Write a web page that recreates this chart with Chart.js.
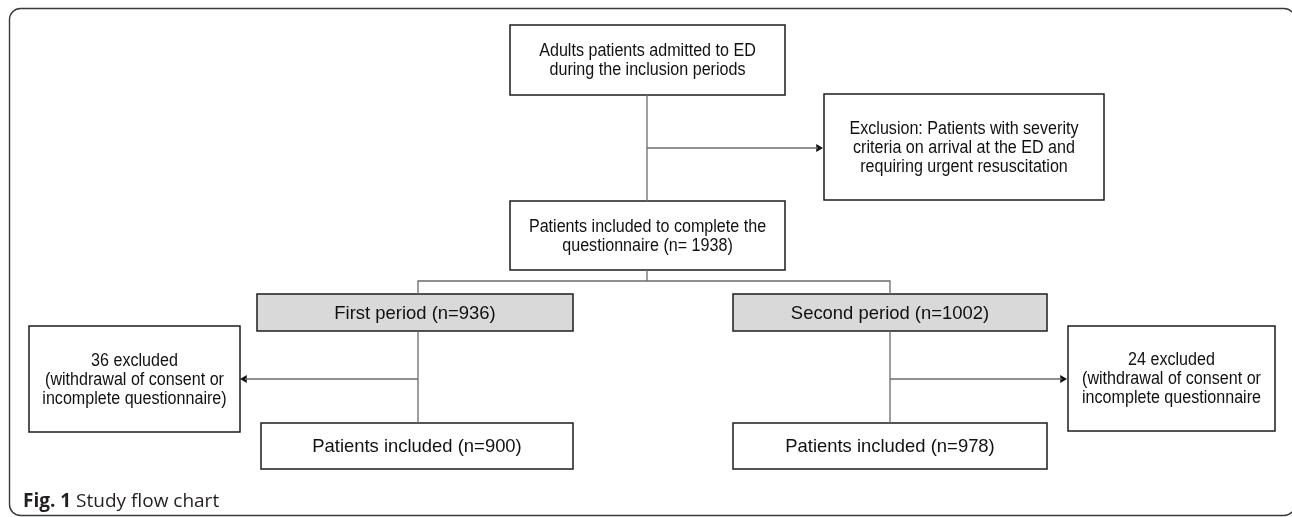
<!DOCTYPE html>
<html>
<head>
<meta charset="utf-8">
<script src="https://cdn.jsdelivr.net/npm/chart.js@4"></script>
<style>
  html, body { margin: 0; padding: 0; background: #fff; }
  #wrap { width: 1292px; height: 517px; position: relative; }
</style>
</head>
<body>
<div id="wrap"><canvas id="flow-chart"></canvas></div>
<script>
// box texts (one entry per box, one string per line)
const boxText = [
  ['Adults patients admitted to ED', 'during the inclusion periods'],
  ['Exclusion: Patients with severity', 'criteria on arrival at the ED and', 'requiring urgent resuscitation'],
  ['Patients included to complete the', 'questionnaire (n= 1938)'],
  ['First period (n=936)'],
  ['Second period (n=1002)'],
  ['36 excluded', '(withdrawal of consent or', 'incomplete questionnaire)'],
  ['24 excluded', '(withdrawal of consent or', 'incomplete questionnaire'],
  ['Patients included (n=900)'],
  ['Patients included (n=978)']
];
const boxShaded = [false, false, false, true, true, false, false, false, false];
const captionBold = 'Fig. 1';
const captionText = ' Study flow chart';

// layout of the boxes, in the chart's own units (x 0..1292, y 0..517 from top)
const boxX0 = [510, 824, 510, 257, 733, 29, 1068, 261, 733];
const boxX1 = [785, 1104, 785, 573, 1047, 240, 1275, 573, 1047];
const boxY0 = [25, 94, 201, 294, 294, 326, 326, 423, 423];
const boxY1 = [95, 200, 270, 331, 331, 432, 431, 469, 469];

// connector paths
const links = [
  [[647, 95], [647, 201]],
  [[647, 148], [818, 148]],
  [[647, 270], [647, 281]],
  [[418, 294], [418, 281], [890, 281], [890, 294]],
  [[418, 331], [418, 423]],
  [[418, 379], [245, 379]],
  [[890, 331], [890, 423]],
  [[890, 379], [1062, 379]]
];
// arrow heads: tip position and direction
const arrowX = [823, 240, 1067];
const arrowY = [148, 379, 379];
const arrowDir = [90, -90, 90];

const ARROW_R = 4.5;

const datasets = links.map(path => ({
  data: path.map(p => ({ x: p[0], y: p[1] })),
  showLine: true,
  borderColor: '#6b6b6b',
  borderWidth: 1.3,
  pointRadius: 0,
  fill: false
}));
datasets.push({
  data: arrowX.map((x, i) => ({ x: x - ARROW_R * Math.sin(arrowDir[i] * Math.PI / 180), y: arrowY[i] })),
  pointStyle: 'triangle',
  rotation: arrowDir,
  pointRadius: ARROW_R,
  backgroundColor: '#111',
  borderColor: '#111',
  borderWidth: 0,
  showLine: false
});

function drawLines(ctx, lines, cx, y0, lh, condense) {
  const start = y0 - (lines.length - 1) * lh / 2;
  lines.forEach((t, i) => {
    ctx.save();
    ctx.translate(cx, start + i * lh);
    ctx.scale(condense, 1);
    ctx.fillText(t, 0, 0);
    ctx.restore();
  });
}

const flowPlugin = {
  id: 'flow',
  beforeDraw(chart) {
    const ctx = chart.ctx;
    const xs = chart.scales.x, ys = chart.scales.y;
    ctx.save();
    ctx.fillStyle = '#fff';
    ctx.fillRect(0, 0, chart.width, chart.height);
    // outer frame, right side runs off the picture
    const l = xs.getPixelForValue(9.5), r = xs.getPixelForValue(1295);
    const t = ys.getPixelForValue(8.5), b = ys.getPixelForValue(515.5);
    ctx.beginPath();
    ctx.roundRect(l, t, r - l, b - t, 11);
    ctx.strokeStyle = '#3a3a3a';
    ctx.lineWidth = 1.4;
    ctx.stroke();
    ctx.restore();
  },
  beforeDatasetsDraw(chart) {
    const ctx = chart.ctx;
    const xs = chart.scales.x, ys = chart.scales.y;
    ctx.save();
    boxText.forEach((lines, i) => {
      const x0 = xs.getPixelForValue(boxX0[i]), x1 = xs.getPixelForValue(boxX1[i]);
      const y0 = ys.getPixelForValue(boxY0[i]), y1 = ys.getPixelForValue(boxY1[i]);
      ctx.fillStyle = boxShaded[i] ? '#d9d9d9' : '#fff';
      ctx.fillRect(x0, y0, x1 - x0, y1 - y0);
      ctx.strokeStyle = '#1c1c1c';
      ctx.lineWidth = 1.5;
      ctx.strokeRect(x0, y0, x1 - x0, y1 - y0);
    });
    ctx.restore();
  },
  afterDatasetsDraw(chart) {
    const ctx = chart.ctx;
    const xs = chart.scales.x, ys = chart.scales.y;
    ctx.save();
    ctx.fillStyle = '#111';
    ctx.textAlign = 'center';
    ctx.textBaseline = 'middle';
    boxText.forEach((lines, i) => {
      const cx = (xs.getPixelForValue(boxX0[i]) + xs.getPixelForValue(boxX1[i])) / 2;
      const cy = (ys.getPixelForValue(boxY0[i]) + ys.getPixelForValue(boxY1[i])) / 2 + 1;
      const big = lines.length === 1;
      ctx.font = (big ? '19px' : '17.5px') + ' "Liberation Sans", Arial, sans-serif';
      drawLines(ctx, lines, cx, cy, 19, big ? 0.97 : 0.92);
    });
    // caption
    ctx.textAlign = 'left';
    ctx.textBaseline = 'alphabetic';
    const cxp = xs.getPixelForValue(23), cyp = ys.getPixelForValue(507);
    ctx.fillStyle = '#231f20';
    ctx.font = 'bold 19px "Open Sans", sans-serif';
    ctx.fillText(captionBold, cxp, cyp);
    const w = ctx.measureText(captionBold).width;
    ctx.font = '19px "Open Sans", sans-serif';
    ctx.fillText(captionText, cxp + w, cyp);
    ctx.restore();
  }
};

new Chart(document.getElementById('flow-chart'), {
  type: 'scatter',
  data: { datasets },
  options: {
    responsive: true,
    maintainAspectRatio: false,
    animation: false,
    layout: { padding: 0, autoPadding: false },
    plugins: { legend: { display: false }, tooltip: { enabled: false } },
    scales: {
      x: { type: 'linear', min: 0, max: 1292, display: false },
      y: { type: 'linear', min: 0, max: 517, reverse: true, display: false }
    },
    events: []
  },
  plugins: [flowPlugin]
});
</script>
</body>
</html>
